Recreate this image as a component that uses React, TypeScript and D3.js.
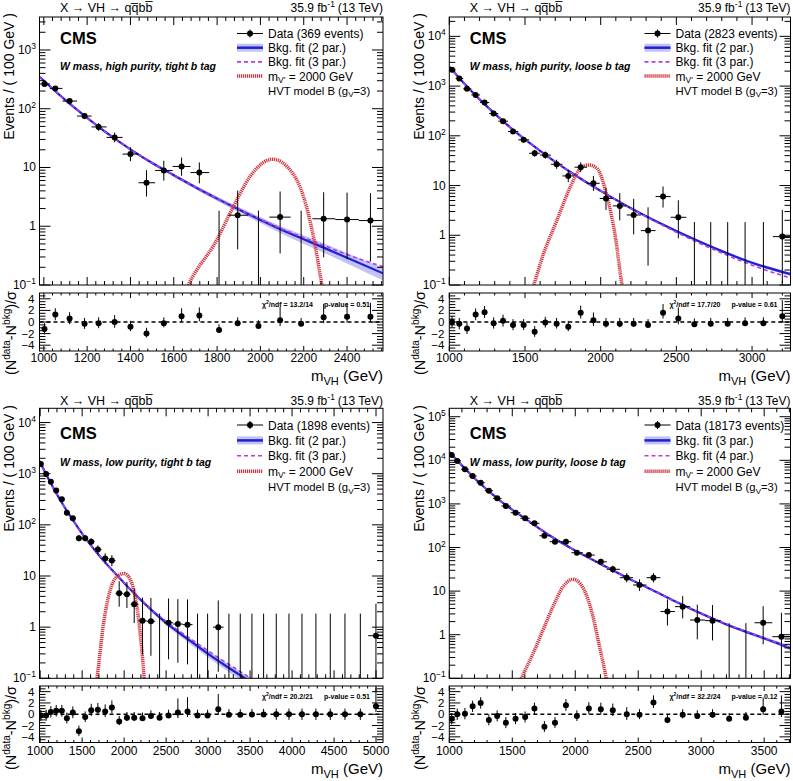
import React from "react";
import * as d3 from "d3";

const SANS = "'Liberation Sans', Arial, Helvetica, sans-serif";
const BLUE = "#1f1fd6";
const BAND = "#c3c3f3";
const MAGENTA = "#b43ce6";
const RED = "#d0303c";

// W mass, high purity, tight b tag
const hptMass = [1003, 1053, 1119, 1188, 1253, 1327, 1400, 1474, 1554, 1636, 1718, 1809, 1895, 1991, 2091, 2188, 2292, 2400, 2508];
const hptEvents = [264, 222, 135, 75, 49, 32.5, 16.9, 5.5, 8.9, 10.4, 8.2, 0, 1.54, 0, 1.43, 0, 1.34, 1.3, 1.25];
const hptPull = [-1.2, 1.3, 0.6, -0.3, -0.2, 0, -0.8, -2.0, -0.2, 1.0, 1.1, -1.4, -0.2, -0.7, 0.3, -0.3, 0.8, 0.9, 0.9];
const hptFitMass = [980, 1100, 1200, 1300, 1400, 1500, 1600, 1700, 1800, 1900, 2000, 2100, 2200, 2300, 2400, 2566];
const hptFit = [350, 140, 70, 36.5, 20.3, 11.9, 7.4, 4.6, 2.95, 1.93, 1.28, 0.86, 0.6, 0.42, 0.29, 0.158];
const hptFitAlt = [350, 140, 70, 36.5, 20.3, 11.9, 7.4, 4.6, 2.95, 1.95, 1.31, 0.9, 0.64, 0.46, 0.33, 0.205];
const hptBandLo = [333, 136, 68, 35.4, 19.5, 11.3, 6.95, 4.28, 2.7, 1.74, 1.13, 0.74, 0.5, 0.345, 0.232, 0.12];
const hptBandHi = [368, 144, 72, 37.6, 21.1, 12.5, 7.85, 4.92, 3.2, 2.12, 1.43, 0.98, 0.7, 0.5, 0.35, 0.196];
const hptSigMass = [1640, 1667, 1798, 1875, 1952, 2029, 2057, 2137, 2199, 2245, 2284, 2295];
const hptSig = [0.06, 0.1, 0.58, 2.15, 7.0, 13.1, 13.8, 9.1, 3.2, 0.66, 0.1, 0.06];

// W mass, high purity, loose b tag
const hplMass = [1018, 1066, 1117, 1174, 1233, 1293, 1355, 1421, 1491, 1564, 1634, 1709, 1786, 1868, 1952, 2035, 2126, 2218, 2313, 2412, 2513, 2619, 2727, 2839, 2954, 3075, 3200];
const hplEvents = [2118, 1416, 879, 665, 466, 280, 197, 122, 83, 44.6, 41, 26.8, 15.6, 23.4, 11.1, 5.5, 3.9, 2.56, 1.24, 6.0, 2.3, 0, 0, 0, 0, 0, 0.94];
const hplPull = [0, -0.3, -1.1, 1.3, 1.7, -0.2, 0.2, -0.5, -0.5, -1.7, -0.1, -0.3, -0.8, 1.6, 0.3, -0.3, -0.3, -0.3, -0.5, 1.6, 0.6, -0.4, -0.3, -0.3, -0.2, -0.2, 1.0];
const hplFitMass = [1000, 1100, 1200, 1300, 1400, 1500, 1600, 1700, 1800, 1900, 2000, 2200, 2400, 2600, 2800, 3000, 3254];
const hplFit = [2450, 1110, 540, 280, 150, 85, 50, 30, 18.7, 11.9, 7.8, 3.5, 1.7, 0.88, 0.48, 0.28, 0.165];
const hplFitAlt = [2450, 1110, 540, 280, 150, 85, 50, 30, 18.7, 11.9, 7.8, 3.45, 1.64, 0.82, 0.44, 0.25, 0.138];
const hplBandLo = [2390, 1090, 532, 276, 148, 83.8, 49.2, 29.5, 18.3, 11.6, 7.55, 3.36, 1.62, 0.83, 0.45, 0.26, 0.151];
const hplBandHi = [2510, 1130, 548, 284, 152, 86.2, 50.8, 30.5, 19.1, 12.2, 8.05, 3.64, 1.78, 0.93, 0.51, 0.3, 0.179];
const hplSigMass = [1530, 1557, 1623, 1712, 1800, 1866, 1921, 1976, 2042, 2097, 2141, 2155];
const hplSig = [0.06, 0.1, 0.43, 2.03, 9.5, 22, 26, 22, 6.0, 0.94, 0.1, 0.06];

// W mass, low purity, tight b tag
const lptMass = [1008, 1071, 1127, 1191, 1258, 1318, 1389, 1461, 1536, 1608, 1687, 1774, 1854, 1941, 2033, 2120, 2219, 2319, 2422, 2529, 2640, 2755, 2874, 2994, 3121, 3248, 3383, 3522, 3661, 3812, 3963, 4118, 4284, 4455, 4630, 4813, 4999];
const lptEvents = [1556, 990, 700, 467, 316, 173, 135, 55, 55, 47, 33, 22, 20, 4.6, 4.4, 2.8, 1.33, 1.3, 0, 1.22, 1.15, 1.12, 0, 0, 1.0, 0, 0, 0, 0, 0, 0, 0, 0, 0, 0, 0, 0.68];
const lptPull = [-0.2, -0.2, 0.4, 0.6, 0.6, -0.7, 0.3, -3.0, -0.5, 0.7, 0.8, 0.5, 1.2, -1.3, -0.6, -0.6, -0.7, -0.3, -0.6, -0.2, 0.3, 0.5, -0.2, -0.2, 0.9, -0.1, -0.1, -0.05, -0.05, 0, 0, 0, 0, 0, 0, 0, 1.4];
const lptFitMass = [992, 1100, 1200, 1300, 1400, 1500, 1600, 1700, 1800, 1900, 2000, 2200, 2400, 2600, 2800, 3000, 3200, 3400, 3600];
const lptFit = [1775, 784, 394, 209, 117, 67.6, 40.6, 25.5, 16.5, 11, 7.3, 3.4, 1.68, 0.9, 0.52, 0.3, 0.18, 0.11, 0.068];
const lptFitAlt = [1775, 784, 394, 209, 117, 67.6, 40.6, 25.5, 16.5, 11, 7.3, 3.45, 1.76, 0.98, 0.58, 0.345, 0.21, 0.13, 0.08];
const lptBandLo = [1720, 765, 385, 205, 114.5, 66, 39.5, 24.7, 15.9, 10.5, 6.9, 3.15, 1.53, 0.8, 0.45, 0.255, 0.15, 0.09, 0.054];
const lptBandHi = [1830, 803, 403, 213, 119.5, 69.2, 41.7, 26.3, 17.1, 11.5, 7.7, 3.65, 1.83, 1.0, 0.59, 0.345, 0.21, 0.13, 0.082];
const lptSigMass = [1650, 1675, 1755, 1834, 1913, 2001, 2092, 2152, 2211, 2239, 2250];
const lptSig = [0.06, 0.1, 1.19, 5.3, 9.7, 11.2, 7.2, 2.5, 0.35, 0.1, 0.06];

// W mass, low purity, loose b tag
const lplMass = [1019, 1063, 1124, 1185, 1249, 1314, 1380, 1449, 1526, 1602, 1676, 1755, 1839, 1926, 2013, 2108, 2203, 2298, 2409, 2510, 2621, 2732, 2853, 2969, 3090, 3222, 3355, 3492, 3637];
const lplEvents = [13250, 9650, 6210, 4360, 3060, 2010, 1340, 895, 628, 468, 359, 186, 136, 136, 76, 67, 47, 31.6, 20.3, 13.8, 20.3, 3.4, 4.4, 2.17, 2.1, 0, 0, 1.88, 0.9];
const lplPull = [-0.8, 0, 0.1, 1.4, 2.0, -1.0, -0.3, -1.5, -0.8, -0.5, 1.0, -2.2, -1.5, 1.6, -0.3, 1.0, 0.9, 0.7, 0, -0.1, 2.1, -1.0, -0.1, -0.3, -0.1, -0.8, -0.6, 0.9, 0.5];
const lplFitMass = [1000, 1200, 1400, 1600, 1800, 2000, 2200, 2400, 2600, 2800, 3000, 3200, 3400, 3600, 3709];
const lplFit = [15500, 3890, 1210, 462, 186, 85, 42, 21, 11, 5.7, 3.05, 1.72, 1.05, 0.65, 0.49];
const lplFitAlt = [15500, 3890, 1210, 462, 186, 85, 42, 21, 11, 5.75, 3.1, 1.76, 1.07, 0.66, 0.5];
const lplBandLo = [15200, 3830, 1190, 454, 182, 83, 41, 20.4, 10.6, 5.45, 2.88, 1.6, 0.96, 0.59, 0.43];
const lplBandHi = [15800, 3950, 1230, 470, 190, 87, 43, 21.6, 11.4, 5.95, 3.22, 1.84, 1.14, 0.72, 0.55];
const lplSigMass = [1540, 1573, 1665, 1744, 1823, 1903, 1982, 2048, 2127, 2193, 2246, 2260];
const lplSig = [0.06, 0.1, 0.37, 1.28, 4.4, 12.6, 18.6, 13.8, 3.7, 0.53, 0.1, 0.06];

const LEFT = { left: 39.5, right: 383 };
const RIGHTCOL = { left: 449.3, right: 790.5 };
const TOP = { mainTop: 17, mainBottom: 285, ratioTop: 293, ratioBottom: 351, headerY: 12, cmsY: 44, catY: 69.5, legY: 33.5, legStep: 14.2, statY: 306.5, tickY: 361.5, titleY: 381, evY: 13, pullY: 333 };
const BOTTOM = { mainTop: 408.3, mainBottom: 678.3, ratioTop: 686, ratioBottom: 742.5, headerY: 404.5, cmsY: 438.5, catY: 465.5, legY: 425, legStep: 15.4, statY: 699, tickY: 755, titleY: 774, evY: 405, pullY: 728 };

const panels = [
  { id: "a", col: LEFT, row: TOP, mass: hptMass, events: hptEvents, pull: hptPull, fitMass: hptFitMass, fit: hptFit, fitAlt: hptFitAlt, bandLo: hptBandLo, bandHi: hptBandHi, sigMass: hptSigMass, sig: hptSig, xDomain: [980, 2566], yMax: 3640, xFirst: 1000, xStep: 200, category: "W mass, high purity, tight b tag", nEvents: 369, fitNames: ["2 par.", "3 par."], chi2: "13.2/14", pValue: "0.51" },
  { id: "b", col: RIGHTCOL, row: TOP, mass: hplMass, events: hplEvents, pull: hplPull, fitMass: hplFitMass, fit: hplFit, fitAlt: hplFitAlt, bandLo: hplBandLo, bandHi: hplBandHi, sigMass: hplSigMass, sig: hplSig, xDomain: [1000, 3254], yMax: 24500, xFirst: 1000, xStep: 500, category: "W mass, high purity, loose b tag", nEvents: 2823, fitNames: ["2 par.", "3 par."], chi2: "17.7/20", pValue: "0.61" },
  { id: "c", col: LEFT, row: BOTTOM, mass: lptMass, events: lptEvents, pull: lptPull, fitMass: lptFitMass, fit: lptFit, fitAlt: lptFitAlt, bandLo: lptBandLo, bandHi: lptBandHi, sigMass: lptSigMass, sig: lptSig, xDomain: [992, 5083], yMax: 19000, xFirst: 1000, xStep: 500, category: "W mass, low purity, tight b tag", nEvents: 1898, fitNames: ["2 par.", "3 par."], chi2: "20.2/21", pValue: "0.51" },
  { id: "d", col: RIGHTCOL, row: BOTTOM, mass: lplMass, events: lplEvents, pull: lplPull, fitMass: lplFitMass, fit: lplFit, fitAlt: lplFitAlt, bandLo: lplBandLo, bandHi: lplBandHi, sigMass: lplSigMass, sig: lplSig, xDomain: [1000, 3709], yMax: 156000, xFirst: 1000, xStep: 500, category: "W mass, low purity, loose b tag", nEvents: 18173, fitNames: ["3 par.", "4 par."], chi2: "32.2/24", pValue: "0.12" },
];

// approximate Poisson (Garwood) interval half-widths
function poissonErr(v: number) {
  if (v <= 0) return [0, 1.84];
  const lo = v > 0.25 ? Math.sqrt(v - 0.25) : v * 0.9;
  return [Math.min(lo, v), Math.sqrt(v + 0.75) + 1];
}

function Panel({ s }: { s: any }) {
  const { left, right } = s.col;
  const R = s.row;
  const x = d3.scaleLinear().domain(s.xDomain).range([left, right]);
  const y = d3.scaleLog().domain([0.1, s.yMax]).range([R.mainBottom, R.mainTop]);
  const r = d3.scaleLinear().domain([-5, 5]).range([R.ratioBottom, R.ratioTop]);

  const fitPath = d3.line<number>().x((_, i) => x(s.fitMass[i])).y((d) => y(d)).curve(d3.curveMonotoneX);
  const bandPath = d3.area<number>().x((_, i) => x(s.fitMass[i])).y0((_, i) => y(s.bandLo[i])).y1((_, i) => y(s.bandHi[i])).curve(d3.curveMonotoneX);
  const sigPath = d3.line<number>().x((_, i) => x(s.sigMass[i])).y((d) => y(d)).curve(d3.curveMonotoneX);

  const n = s.mass.length;
  const edges = s.mass.map((m: number, i: number) => {
    const prev = i > 0 ? s.mass[i - 1] : m - (s.mass[1] - s.mass[0]);
    const next = i < n - 1 ? s.mass[i + 1] : m + (m - s.mass[n - 2]);
    return [(prev + m) / 2, (m + next) / 2];
  });

  const major = d3.range(s.xFirst, s.xDomain[1] + 1e-6, s.xStep);
  const minStep = s.xStep / 5;
  const minor = d3.range(Math.ceil(s.xDomain[0] / minStep) * minStep, s.xDomain[1], minStep).filter((v) => v % s.xStep !== 0);
  const topExp = Math.floor(Math.log10(s.yMax));
  const decades = d3.range(-1, topExp + 1);
  const yMinor: number[] = [];
  decades.forEach((e) => d3.range(2, 10).forEach((m) => { const v = m * Math.pow(10, e); if (v < s.yMax) yMinor.push(v); }));
  const pullMajor = [-4, -2, 0, 2, 4];
  const pullMinor = d3.range(-4.5, 5, 0.5).filter((v) => v % 2 !== 0);

  const legX0 = right - 146, legX1 = right - 120, legText = right - 115;
  const rowY = (k: number) => R.legY + k * R.legStep;
  const ylo = y(0.1);

  return (
    <g fontFamily={SANS}>
      <defs>
        <clipPath id={`clip-${s.id}`}><rect x={left} y={R.mainTop} width={right - left} height={R.mainBottom - R.mainTop} /></clipPath>
        <clipPath id={`clipr-${s.id}`}><rect x={left} y={R.ratioTop} width={right - left} height={R.ratioBottom - R.ratioTop} /></clipPath>
      </defs>

      {/* header */}
      <text x={left + 20.5} y={R.headerY} fontSize={12.5}>{"X \u2192 VH \u2192 qq\u0305bb\u0305"}</text>
      <text x={right} y={R.headerY} fontSize={12} textAnchor="end">
        35.9 fb<tspan dy={-5} fontSize={8.5}>-1</tspan><tspan dy={5} dx={3}>(13 TeV)</tspan>
      </text>

      {/* main plot contents */}
      <g clipPath={`url(#clip-${s.id})`}>
        <path d={bandPath(s.fit) ?? ""} fill={BAND} />
        <path d={fitPath(s.fit) ?? ""} fill="none" stroke={BLUE} strokeWidth={2.2} />
        <path d={fitPath(s.fitAlt) ?? ""} fill="none" stroke={MAGENTA} strokeWidth={1.6} strokeDasharray="4 3" />
        <path d={sigPath(s.sig) ?? ""} fill="none" stroke={RED} strokeWidth={3.5} strokeDasharray="1.2 0.8" />
        {s.events.map((v: number, i: number) => {
          const [el, eu] = poissonErr(v);
          const cx = x(s.mass[i]);
          if (v <= 0) return <line key={i} x1={cx} x2={cx} y1={ylo} y2={y(eu)} stroke="#000" strokeWidth={1} />;
          const lo = v - el > 0.1 ? y(v - el) : ylo;
          return (
            <g key={i}>
              <line x1={cx} x2={cx} y1={lo} y2={y(v + eu)} stroke="#000" strokeWidth={1} />
              <line x1={x(edges[i][0])} x2={x(edges[i][1])} y1={y(v)} y2={y(v)} stroke="#000" strokeWidth={1} />
              <circle cx={cx} cy={y(v)} r={3} fill="#000" />
            </g>
          );
        })}
      </g>

      {/* main frame and ticks */}
      <rect x={left} y={R.mainTop} width={right - left} height={R.mainBottom - R.mainTop} fill="none" stroke="#000" strokeWidth={1} />
      {major.map((v) => (
        <g key={`M${v}`} stroke="#000">
          <line x1={x(v)} x2={x(v)} y1={R.mainBottom} y2={R.mainBottom - 8} />
          <line x1={x(v)} x2={x(v)} y1={R.mainTop} y2={R.mainTop + 8} />
        </g>
      ))}
      {minor.map((v) => (
        <g key={`m${v}`} stroke="#000">
          <line x1={x(v)} x2={x(v)} y1={R.mainBottom} y2={R.mainBottom - 4} />
          <line x1={x(v)} x2={x(v)} y1={R.mainTop} y2={R.mainTop + 4} />
        </g>
      ))}
      {decades.map((e) => {
        const yy = y(Math.pow(10, e));
        return (
          <g key={`d${e}`}>
            <line x1={left} x2={left + 11} y1={yy} y2={yy} stroke="#000" />
            <line x1={right} x2={right - 11} y1={yy} y2={yy} stroke="#000" />
            <text x={left - 3.5} y={yy + 4} fontSize={12} textAnchor="end">
              {e === 0 ? "1" : e === 1 ? "10" : <>10<tspan dy={-5} fontSize={8.5}>{e === -1 ? "−1" : e}</tspan></>}
            </text>
          </g>
        );
      })}
      {yMinor.map((v) => (
        <g key={`ym${v}`} stroke="#000">
          <line x1={left} x2={left + 6} y1={y(v)} y2={y(v)} />
          <line x1={right} x2={right - 6} y1={y(v)} y2={y(v)} />
        </g>
      ))}
      <text transform={`translate(${left - 25.5},${R.evY}) rotate(-90)`} fontSize={14} textAnchor="end">Events / ( 100 GeV )</text>

      {/* labels and legend */}
      <text x={left + 20.5} y={R.cmsY} fontSize={16.5} fontWeight="bold">CMS</text>
      <text x={left + 20.5} y={R.catY} fontSize={10.5} fontWeight="bold" fontStyle="italic">{s.category}</text>
      <g fontSize={12}>
        <line x1={legX0} x2={legX1} y1={rowY(0)} y2={rowY(0)} stroke="#000" />
        <line x1={(legX0 + legX1) / 2} x2={(legX0 + legX1) / 2} y1={rowY(0) - 4} y2={rowY(0) + 4} stroke="#000" />
        <circle cx={(legX0 + legX1) / 2} cy={rowY(0)} r={3} />
        <text x={legText} y={rowY(0) + 4.5}>Data ({s.nEvents} events)</text>
        <rect x={legX0} y={rowY(1) - 4} width={legX1 - legX0} height={8} fill={BAND} />
        <line x1={legX0} x2={legX1} y1={rowY(1)} y2={rowY(1)} stroke={BLUE} strokeWidth={2.5} />
        <text x={legText} y={rowY(1) + 4.5}>Bkg. fit ({s.fitNames[0]})</text>
        <line x1={legX0} x2={legX1} y1={rowY(2)} y2={rowY(2)} stroke={MAGENTA} strokeWidth={1.6} strokeDasharray="4 3" />
        <text x={legText} y={rowY(2) + 4.5}>Bkg. fit ({s.fitNames[1]})</text>
        <line x1={legX0} x2={legX1} y1={rowY(3)} y2={rowY(3)} stroke={RED} strokeWidth={3.5} strokeDasharray="1.2 0.8" />
        <text x={legText} y={rowY(3) + 4.5}>m<tspan dy={2.5} fontSize={8.5}>V'</tspan><tspan dy={-2.5}> = 2000 GeV</tspan></text>
        <text x={legText} y={rowY(4) + 4.5} fontSize={11.3}>HVT model B (g<tspan dy={2.5} fontSize={8}>V</tspan><tspan dy={-2.5}>=3)</tspan></text>
      </g>

      {/* ratio panel */}
      <g clipPath={`url(#clipr-${s.id})`}>
        <line x1={left} x2={right} y1={r(0)} y2={r(0)} stroke="#000" strokeWidth={1.5} strokeDasharray="4 3" />
        {s.pull.map((p: number, i: number) => {
          const [el, eu] = poissonErr(s.events[i]);
          let up = 1, dn = 1;
          if (p >= 0) up = el > 0 ? Math.min(eu / el, 3.5) : 1;
          else dn = eu > 0 ? el / eu : 0;
          const cx = x(s.mass[i]);
          return (
            <g key={i}>
              <line x1={cx} x2={cx} y1={r(p - dn)} y2={r(p + up)} stroke="#000" />
              <circle cx={cx} cy={r(p)} r={3} fill="#000" />
            </g>
          );
        })}
      </g>
      <rect x={left} y={R.ratioTop} width={right - left} height={R.ratioBottom - R.ratioTop} fill="none" stroke="#000" />
      {major.map((v) => (
        <g key={`rM${v}`}>
          <line x1={x(v)} x2={x(v)} y1={R.ratioBottom} y2={R.ratioBottom - 5} stroke="#000" />
          <line x1={x(v)} x2={x(v)} y1={R.ratioTop} y2={R.ratioTop + 5} stroke="#000" />
          <text x={x(v)} y={R.tickY} fontSize={12} textAnchor="middle">{v}</text>
        </g>
      ))}
      {minor.map((v) => (
        <g key={`rm${v}`} stroke="#000">
          <line x1={x(v)} x2={x(v)} y1={R.ratioBottom} y2={R.ratioBottom - 2.5} />
          <line x1={x(v)} x2={x(v)} y1={R.ratioTop} y2={R.ratioTop + 2.5} />
        </g>
      ))}
      {pullMajor.map((v) => (
        <g key={`pM${v}`}>
          <line x1={left} x2={left + 11} y1={r(v)} y2={r(v)} stroke="#000" />
          <line x1={right} x2={right - 11} y1={r(v)} y2={r(v)} stroke="#000" />
          <text x={left - 5} y={r(v) + 4} fontSize={11.5} textAnchor="end">{v < 0 ? `−${-v}` : v}</text>
        </g>
      ))}
      {pullMinor.map((v) => (
        <g key={`pm${v}`} stroke="#000">
          <line x1={left} x2={left + 6} y1={r(v)} y2={r(v)} />
          <line x1={right} x2={right - 6} y1={r(v)} y2={r(v)} />
        </g>
      ))}
      <text x={right - 70} y={R.statY} fontSize={7} fontWeight="bold" textAnchor="end">
        χ<tspan dy={-3} fontSize={5}>2</tspan><tspan dy={3}>/ndf = {s.chi2}</tspan>
      </text>
      <text x={right - 13} y={R.statY} fontSize={7} fontWeight="bold" textAnchor="end">p-value = {s.pValue}</text>
      <text transform={`translate(${left - 24},${R.pullY}) rotate(-90)`} fontSize={14.5} textAnchor="middle">
        (N<tspan dy={-6} fontSize={10}>data</tspan><tspan dy={6}>-N</tspan><tspan dy={-6} fontSize={10}>bkg</tspan><tspan dy={6}>)/σ</tspan>
      </text>
      <text x={right} y={R.titleY} fontSize={15} textAnchor="end">
        m<tspan dy={4} fontSize={11}>VH</tspan><tspan dy={-4}> (GeV)</tspan>
      </text>
    </g>
  );
}

export default function App() {
  return (
    <svg width={793} height={781} style={{ position: "absolute", left: 0, top: 0, background: "#fff" }}>
      <rect width={793} height={781} fill="#fff" />
      {panels.map((s) => <Panel key={s.id} s={s} />)}
    </svg>
  );
}
